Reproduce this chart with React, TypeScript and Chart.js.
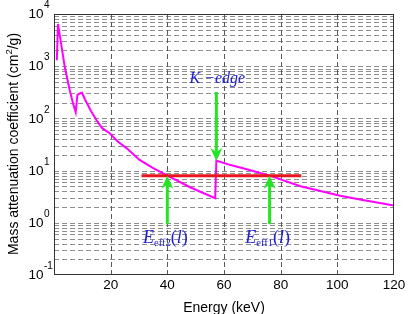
import React, { useEffect, useRef } from "react";
import { Chart, registerables } from "chart.js";

Chart.register(...registerables);

// ---- data ----
const ENERGY_KEV = [1.0, 1.41, 3.78, 5.54, 6.7, 7.66, 8.26, 9.07, 9.88, 11, 13, 14.97, 17, 19.66, 22.5, 25.6, 30.2, 35, 39.7, 48, 56.9, 57.3, 62, 69, 76.1, 87, 101, 108, 120];
const MASS_ATT = [1300, 6450, 980, 350, 195, 132, 283, 300, 310, 228, 140, 93, 65, 52, 36, 27, 16, 11.2, 8.2, 4.8, 2.95, 15.6, 12.9, 10.3, 8.0, 5.0, 3.3, 2.8, 2.15];
const EFF_LINE_X = [30.9, 87.3];
const EFF_LINE_Y = [8.0, 8.0];
const X_TICKS = [20, 40, 60, 80, 100, 120];
const Y_EXPONENTS = [-1, 0, 1, 2, 3, 4];
const Y_MINOR_MULT = [1, 2, 3, 4, 5, 6, 7, 8, 9];
const K_EDGE_X = 57.3;
const K_EDGE_ARROW_Y = [320, 15.3];
const EFF_ARROW_X = [40.0, 76.1];
const EFF_ARROW_Y = [0.94, 8.0];
const EFF_SUBSCRIPTS = ["eff2", "eff1"];
const X_TITLE = "Energy (keV)";
const Y_TITLE_PARTS = ["Mass attenuation coefficient (cm", "2", "/g)"];
const K_EDGE_LABEL = "K \u2212edge";

const SANS = '"Liberation Sans", Arial, sans-serif';
const SERIF = '"Liberation Serif", "Times New Roman", serif';
const BLUE = "#1e1ed8";
const GREEN = "#22e622";

function drawArrow(ctx: CanvasRenderingContext2D, x: number, y0: number, y1: number) {
  const dir = Math.sign(y1 - y0);
  const headLen = 13, headW = 6, notch = 9;
  ctx.save();
  ctx.setLineDash([]);
  ctx.strokeStyle = GREEN;
  ctx.fillStyle = GREEN;
  ctx.lineWidth = 3;
  ctx.beginPath();
  ctx.moveTo(x, y0);
  ctx.lineTo(x, y1 - dir * notch);
  ctx.stroke();
  ctx.beginPath();
  ctx.moveTo(x, y1);
  ctx.lineTo(x - headW, y1 - dir * headLen);
  ctx.lineTo(x, y1 - dir * notch);
  ctx.lineTo(x + headW, y1 - dir * headLen);
  ctx.closePath();
  ctx.fill();
  ctx.restore();
}

function drawEffLabel(ctx: CanvasRenderingContext2D, cx: number, baseline: number, sub: string) {
  const fE = `italic 18px ${SERIF}`;
  const fSub = `10.5px ${SERIF}`;
  const fPar = `18px ${SERIF}`;
  const fL = `italic 18px ${SERIF}`;
  const parts: [string, string, number][] = [
    ["E", fE, 0],
    [sub, fSub, 3],
    ["(", fPar, 0],
    ["l", fL, 0],
    [")", fPar, 0],
  ];
  let total = 0;
  const widths = parts.map(([t, f]) => {
    ctx.font = f;
    const w = ctx.measureText(t).width;
    total += w;
    return w;
  });
  let x = cx - total / 2;
  ctx.fillStyle = BLUE;
  ctx.textAlign = "left";
  ctx.textBaseline = "alphabetic";
  parts.forEach(([t, f, dy], i) => {
    ctx.font = f;
    ctx.fillText(t, x, baseline + dy);
    x += widths[i];
  });
}

const overlay = {
  id: "overlay",
  beforeDatasetsDraw(chart: any) {
    const { ctx, chartArea: a, scales } = chart;
    const xs = scales.x, ys = scales.y;
    ctx.save();
    ctx.beginPath();
    ctx.rect(a.left, a.top, a.right - a.left, a.bottom - a.top);
    ctx.clip();
    ctx.lineWidth = 1;
    ctx.setLineDash([5, 3]);
    ctx.strokeStyle = "#8e8e8e";
    for (const e of Y_EXPONENTS) {
      for (const m of Y_MINOR_MULT) {
        const v = m * Math.pow(10, e);
        if (v <= 0.1 + 1e-9 || v >= 10000 - 1e-6) continue;
        const py = Math.round(ys.getPixelForValue(v)) + 0.5;
        ctx.beginPath();
        ctx.moveTo(a.left, py);
        ctx.lineTo(a.right, py);
        ctx.stroke();
      }
    }
    ctx.strokeStyle = "#5a5a5a";
    for (const t of X_TICKS) {
      if (t >= 120) continue;
      const px = Math.round(xs.getPixelForValue(t)) + 0.5;
      ctx.beginPath();
      ctx.moveTo(px, a.bottom);
      ctx.lineTo(px, a.top);
      ctx.stroke();
    }
    ctx.restore();
  },
  afterDatasetsDraw(chart: any) {
    const { ctx, chartArea: a, scales } = chart;
    const xs = scales.x, ys = scales.y;
    ctx.save();
    // frame
    ctx.setLineDash([]);
    ctx.strokeStyle = "#333";
    ctx.lineWidth = 1;
    ctx.strokeRect(Math.round(a.left) + 0.5, Math.round(a.top) + 0.5, Math.round(a.right - a.left) - 1, Math.round(a.bottom - a.top) - 1);

    // arrows
    const kx = xs.getPixelForValue(K_EDGE_X);
    const ky0 = ys.getPixelForValue(K_EDGE_ARROW_Y[0]);
    drawArrow(ctx, kx, ky0, ys.getPixelForValue(K_EDGE_ARROW_Y[1]));
    const ey0 = ys.getPixelForValue(EFF_ARROW_Y[0]);
    const ey1 = ys.getPixelForValue(EFF_ARROW_Y[1]);
    EFF_ARROW_X.forEach((ex) => drawArrow(ctx, xs.getPixelForValue(ex), ey0, ey1));

    // labels
    ctx.fillStyle = BLUE;
    ctx.font = `italic 16px ${SERIF}`;
    ctx.textAlign = "center";
    ctx.textBaseline = "alphabetic";
    ctx.fillText(K_EDGE_LABEL, kx + 1, ky0 - 9);
    EFF_ARROW_X.forEach((ex, i) => drawEffLabel(ctx, xs.getPixelForValue(ex) - 2, ey0 + 19, EFF_SUBSCRIPTS[i]));

    // y tick labels
    ctx.fillStyle = "#000";
    for (const e of Y_EXPONENTS) {
      const py = ys.getPixelForValue(Math.pow(10, e));
      ctx.font = `13.5px ${SANS}`;
      ctx.textAlign = "right";
      ctx.textBaseline = "middle";
      ctx.fillText("10", 43.5, py + 0.5);
      ctx.font = `10px ${SANS}`;
      ctx.textAlign = "left";
      ctx.fillText(String(e), 44, py - 8.5);
    }
    // x tick labels
    ctx.font = `13.5px ${SANS}`;
    ctx.textAlign = "center";
    ctx.textBaseline = "middle";
    for (const t of X_TICKS) {
      ctx.fillText(String(t), xs.getPixelForValue(t), 285.5);
    }
    // x title
    ctx.font = `14px ${SANS}`;
    ctx.textBaseline = "alphabetic";
    ctx.fillText(X_TITLE, (a.left + a.right) / 2, 311.5);
    // y title
    ctx.translate(17.5, 144);
    ctx.rotate(-Math.PI / 2);
    const fMain = `14px ${SANS}`;
    const fSup = `9.5px ${SANS}`;
    ctx.font = fMain;
    const w0 = ctx.measureText(Y_TITLE_PARTS[0]).width;
    const w2 = ctx.measureText(Y_TITLE_PARTS[2]).width;
    ctx.font = fSup;
    const w1 = ctx.measureText(Y_TITLE_PARTS[1]).width;
    let x = -(w0 + w1 + w2) / 2;
    ctx.textAlign = "left";
    ctx.font = fMain;
    ctx.fillText(Y_TITLE_PARTS[0], x, 0);
    x += w0;
    ctx.font = fSup;
    ctx.fillText(Y_TITLE_PARTS[1], x, -6);
    x += w1;
    ctx.font = fMain;
    ctx.fillText(Y_TITLE_PARTS[2], x, 0);
    ctx.restore();
  },
};

export default function App() {
  const ref = useRef<HTMLCanvasElement | null>(null);
  useEffect(() => {
    if (!ref.current) return;
    const chart = new Chart(ref.current, {
      type: "line",
      data: {
        datasets: [
          {
            data: ENERGY_KEV.map((x, i) => ({ x, y: MASS_ATT[i] })),
            borderColor: "#ff00ff",
            borderWidth: 2,
            pointRadius: 0,
            tension: 0,
            order: 2,
          },
          {
            data: EFF_LINE_X.map((x, i) => ({ x, y: EFF_LINE_Y[i] })),
            borderColor: "#e8161c",
            borderWidth: 3,
            pointRadius: 0,
            order: 1,
          },
        ],
      },
      options: {
        responsive: false,
        animation: false,
        devicePixelRatio: 1,
        layout: { padding: { left: 0, top: 14, right: 14, bottom: 0 } },
        plugins: { legend: { display: false }, tooltip: { enabled: false } },
        scales: {
          x: {
            type: "linear",
            min: 0,
            max: 120,
            grid: { display: false },
            border: { display: false },
            ticks: { display: false },
            afterFit: (s: any) => { s.height = 39; },
          },
          y: {
            type: "logarithmic",
            min: 0.1,
            max: 10000,
            grid: { display: false },
            border: { display: false },
            ticks: { display: false },
            afterFit: (s: any) => { s.width = 54; },
          },
        },
      } as any,
      plugins: [overlay],
    });
    return () => chart.destroy();
  }, []);
  return (
    <div style={{ position: "fixed", left: 0, top: 0, width: 408, height: 314, background: "#fff" }}>
      <canvas ref={ref} width={408} height={314} style={{ display: "block" }} />
    </div>
  );
}
